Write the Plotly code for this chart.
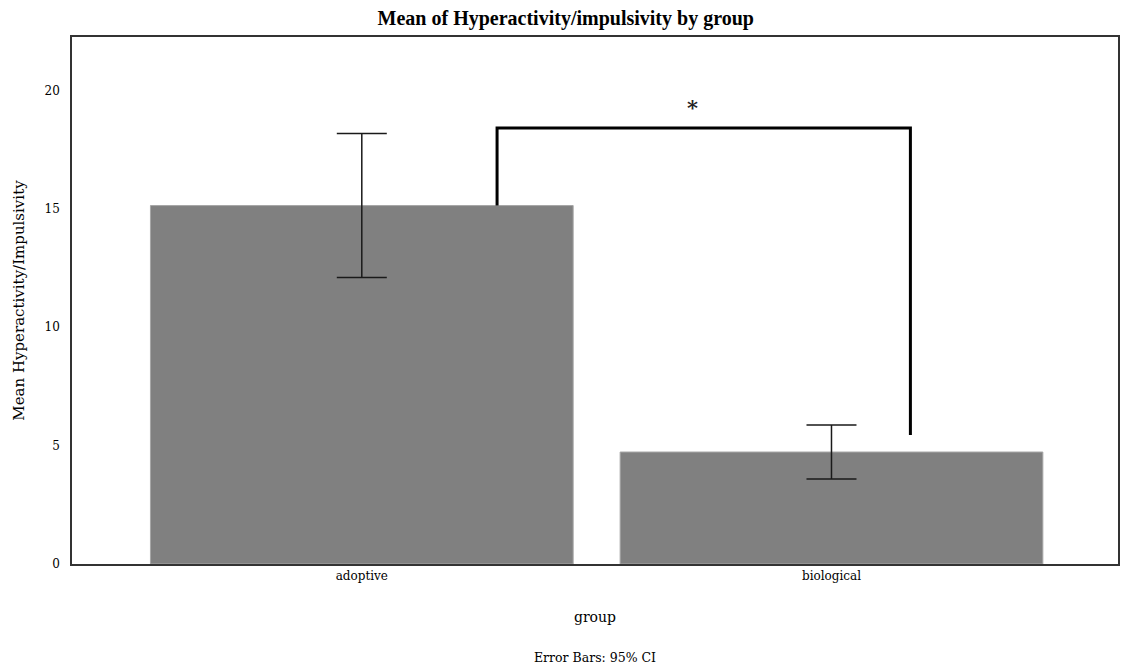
import plotly.graph_objects as go

categories = ["adoptive", "biological"]
cat_pos = [0, 1]
means = [15.14, 4.73]
ci_low = [12.10, 3.59]
ci_high = [18.18, 5.87]

# significance bracket
bracket_x = [0.288, 0.288, 1.168, 1.168]
bracket_y = [15.14, 18.42, 18.42, 5.45]
star_x = 0.705
star_y = 19.3

SERIF = "Liberation Serif, Times New Roman, serif"
SERIF2 = "DejaVu Serif, serif"

fig = go.Figure()
fig.add_trace(go.Bar(
    x=cat_pos, y=means, width=0.9,
    marker=dict(color="#808080", line=dict(color="#a6a6a6", width=1)),
    error_y=dict(type="data", symmetric=False,
                 array=[h - m for h, m in zip(ci_high, means)],
                 arrayminus=[m - l for m, l in zip(means, ci_low)],
                 color="#1a1a1a", thickness=1.5, width=25),
    showlegend=False, hoverinfo="skip",
))
fig.add_trace(go.Scatter(
    x=bracket_x, y=bracket_y, mode="lines",
    line=dict(color="black", width=3), showlegend=False, hoverinfo="skip",
))
fig.add_annotation(x=star_x, y=star_y, text="<b>*</b>", showarrow=False,
                   font=dict(family=SERIF2, size=21, color="#222"))

fig.update_layout(
    width=1127, height=666,
    margin=dict(l=72, r=7, t=37, b=102),
    paper_bgcolor="white", plot_bgcolor="white",
    title=dict(text="<b>Mean of Hyperactivity/impulsivity by group</b>",
               x=0.502, xanchor="center", y=0.973, yanchor="middle",
               font=dict(family=SERIF, size=20, color="black")),
    font=dict(family=SERIF2, color="black"),
)
fig.update_xaxes(
    range=[-0.617, 1.61], tickvals=cat_pos, ticktext=categories,
    tickfont=dict(family=SERIF2, size=12, color="black"),
    showgrid=False, zeroline=False, showline=True, mirror=True,
    linecolor="#333", linewidth=1.5, ticks="",
    title=dict(text="group", font=dict(family=SERIF2, size=14), standoff=30),
)
fig.update_yaxes(
    range=[0, 22.26], tickvals=[0, 5, 10, 15, 20],
    tickfont=dict(family=SERIF2, size=12, color="black"),
    showgrid=False, zeroline=False, showline=True, mirror=True,
    linecolor="#333", linewidth=1.5, ticks="", ticklabelstandoff=8,
    title=dict(text="Mean Hyperactivity/Impulsivity", font=dict(family=SERIF2, size=15), standoff=16),
)
fig.add_annotation(x=0.5, xref="paper", y=-0.178, yref="paper", yanchor="middle",
                   text="Error Bars: 95% CI", showarrow=False,
                   font=dict(family=SERIF2, size=12.5, color="black"))

fig.write_html("out.html")
